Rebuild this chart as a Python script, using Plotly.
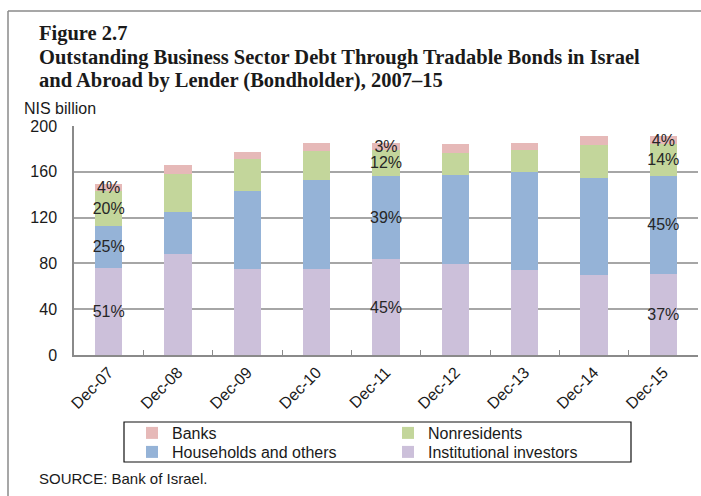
import plotly.graph_objects as go

# Outstanding business-sector tradable bond debt by holder, NIS billion
categories = ["Dec-07", "Dec-08", "Dec-09", "Dec-10", "Dec-11",
              "Dec-12", "Dec-13", "Dec-14", "Dec-15"]
institutional = [76.2, 87.9, 75.1, 74.8, 83.8, 79.5, 74.2, 69.9, 70.7]
households = [36.7, 37.3, 68.4, 78.3, 72.8, 77.7, 85.6, 84.7, 85.9]
nonresidents = [30.1, 32.6, 28.0, 25.3, 22.4, 18.9, 19.2, 28.8, 27.5]
banks = [6.3, 8.1, 5.8, 6.5, 6.2, 8.2, 6.4, 8.1, 7.0]

# years whose composition is written on the bars
labelled = ["Dec-07", "Dec-11", "Dec-15"]

# (name, values, colour, legend row)
series = [
    ("Institutional investors", institutional, "#CCC0DA", "legend2"),
    ("Households and others", households, "#95B3D7", "legend2"),
    ("Nonresidents", nonresidents, "#C3D69B", "legend"),
    ("Banks", banks, "#E6B9B8", "legend"),
]

totals = [sum(v) for v in zip(institutional, households, nonresidents, banks)]

# figure geometry (pixels)
W, H = 701, 496
L, R, T, B = 74, 3, 126, 141
PW, PH = W - L - R, H - T - B


def px(x):
    return (x - L) / PW


def py(y):
    return (T + PH - y) / PH


SANS = "Liberation Sans, Arial, sans-serif"
SERIF = "Liberation Serif, Times New Roman, serif"
INK = "#1a1a1a"

fig = go.Figure()
for name, vals, color, leg in series:
    text = [f"{round(v / t * 100)}%" if c in labelled else ""
            for c, v, t in zip(categories, vals, totals)]
    fig.add_trace(go.Bar(
        x=categories, y=vals, name=name, legend=leg,
        marker=dict(color=color, line=dict(width=0)),
        text=text, textposition="inside", insidetextanchor="middle",
        textangle=0, constraintext="none",
        textfont=dict(family=SANS, size=16, color="#262626"),
        hoverinfo="x+y+name",
    ))


def legend_row(top):
    return dict(
        orientation="h", traceorder="reversed",
        x=px(132), xanchor="left", y=py(top), yanchor="top",
        entrywidth=211, entrywidthmode="pixels",
        font=dict(family=SANS, size=16, color=INK),
        bgcolor="rgba(0,0,0,0)", borderwidth=0,
        itemclick=False,
    )


fig.update_layout(
    width=W, height=H,
    margin=dict(l=L, r=R, t=T, b=B, pad=0, autoexpand=False),
    barmode="stack", bargap=0.61,
    paper_bgcolor="white", plot_bgcolor="white",
    font=dict(family=SANS, size=16, color=INK),
    showlegend=True,
    legend=legend_row(416),
    legend2=legend_row(435),
    xaxis=dict(
        type="category",
        showline=True, linecolor="#8a8a8a", linewidth=1.5,
        ticks="inside", tickson="boundaries", ticklen=5,
        tickcolor="#8a8a8a", tickwidth=1.2,
        tickangle=-45, tickfont=dict(family=SANS, size=16, color=INK),
        showgrid=False, fixedrange=True,
    ),
    yaxis=dict(
        range=[0, 200], dtick=40, tick0=0,
        showline=True, linecolor="#8a8a8a", linewidth=1.5,
        showgrid=True, gridcolor="#a6a6a6", gridwidth=1.5,
        ticks="", ticklabelstandoff=12,
        tickfont=dict(family=SANS, size=16, color=INK),
        zeroline=False, fixedrange=True,
    ),
)

# titles and notes
title_lines = [
    ("Figure 2.7", 34),
    ("Outstanding Business Sector Debt Through Tradable Bonds in Israel", 57),
    ("and Abroad by Lender (Bondholder), 2007\u201315", 80),
]
for txt, yc in title_lines:
    fig.add_annotation(
        text=f"<b>{txt}</b>", xref="paper", yref="paper",
        x=px(37), y=py(yc), xanchor="left", yanchor="middle",
        showarrow=False, font=dict(family=SERIF, size=20.5, color=INK),
    )

fig.add_annotation(
    text="NIS billion", xref="paper", yref="paper",
    x=px(22), y=py(109), xanchor="left", yanchor="middle",
    showarrow=False, font=dict(family=SANS, size=16, color=INK),
)
fig.add_annotation(
    text="SOURCE: Bank of Israel.", xref="paper", yref="paper",
    x=px(37), y=py(478), xanchor="left", yanchor="middle",
    showarrow=False, font=dict(family=SANS, size=15, color=INK),
)

# outer frame (top and left edges) and legend box
frame = dict(color="#8a8a8a", width=1.5)
fig.add_shape(type="line", xref="paper", yref="paper",
              x0=px(8), x1=px(W + 2), y0=py(11), y1=py(11), line=frame)
fig.add_shape(type="line", xref="paper", yref="paper",
              x0=px(8), x1=px(8), y0=py(11), y1=py(H + 2), line=frame)
fig.add_shape(type="rect", xref="paper", yref="paper",
              x0=px(124), x1=px(631), y0=py(462), y1=py(422),
              line=dict(color="#111111", width=1.2))

fig.write_html("out.html")
